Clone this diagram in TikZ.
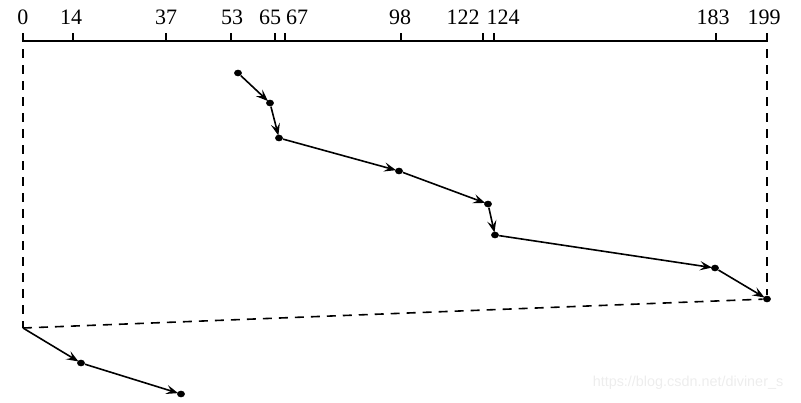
\documentclass[tikz,border=0pt]{standalone}
\usepackage{fontspec}
\setmainfont{Liberation Serif}
\newfontfamily\wmfont{Liberation Sans}
\usetikzlibrary{arrows.meta}

\tikzset{
  track/.style={ellipse,fill=black,inner sep=0pt,minimum width=3.9pt,minimum height=3.3pt},
  seek/.style={line width=0.8pt,-{Stealth[length=6pt,width=4.6pt,inset=2.4pt]},shorten >=-0.6pt},
  jump/.style={line width=0.8pt,dash pattern=on 4.5pt off 3.5pt},
  cyl/.style={inner sep=0pt,anchor=base,font=\fontsize{11}{12}\selectfont},
}
\usetikzlibrary{shapes.geometric}

\begin{document}
\begin{tikzpicture}[x=0.5pt,y=-0.5pt,line join=round]
\useasboundingbox (0,0) rectangle (801,402);
\def\yax{41}

% ---- cylinder axis ----
\draw[line width=0.75pt] (23,\yax) -- (767,\yax);
\foreach \c/\x/\lx in {0/23/23, 14/73/71, 37/166/166, 53/231/232, 65/275/270,
    67/285/297, 98/401/400, 122/483/463, 124/494/503, 183/716/713, 199/767/764}{
  \draw[line width=0.75pt] (\x,\yax) -- (\x,\yax-8);
  \node[cyl] (l\c) at (\lx,24) {\c};}

% ---- requests in service order ----
\foreach \c/\x/\y in {53/238/73, 65/270/103, 67/279/138, 98/399/171,
    122/488/204, 124/495/235, 183/715/268, 199/767/299, 14/81/363, 37/181/394}{
  \node[track] (p\c) at (\x,\y) {};}
\coordinate (p0) at (23,328);
\coordinate (a0) at (23,\yax);
\coordinate (a199) at (767,\yax);

% ---- head movement ----
\foreach \a/\b in {53/65, 65/67, 67/98, 98/122, 122/124, 124/183, 183/199, 0/14, 14/37}{
  \draw[seek] (p\a) -- (p\b);}

% ---- return sweep ----
\draw[jump,dash phase=-4pt] (a0) -- (p0);
\draw[jump,dash phase=-4pt] (a199) -- (p199);
\draw[jump] (p0) -- (p199);

\node[text=black!7,inner sep=0pt,font=\wmfont\fontsize{7.2}{8}\selectfont] (wm) at (688,383) {https://blog.csdn.net/diviner\_s};
\end{tikzpicture}
\end{document}
